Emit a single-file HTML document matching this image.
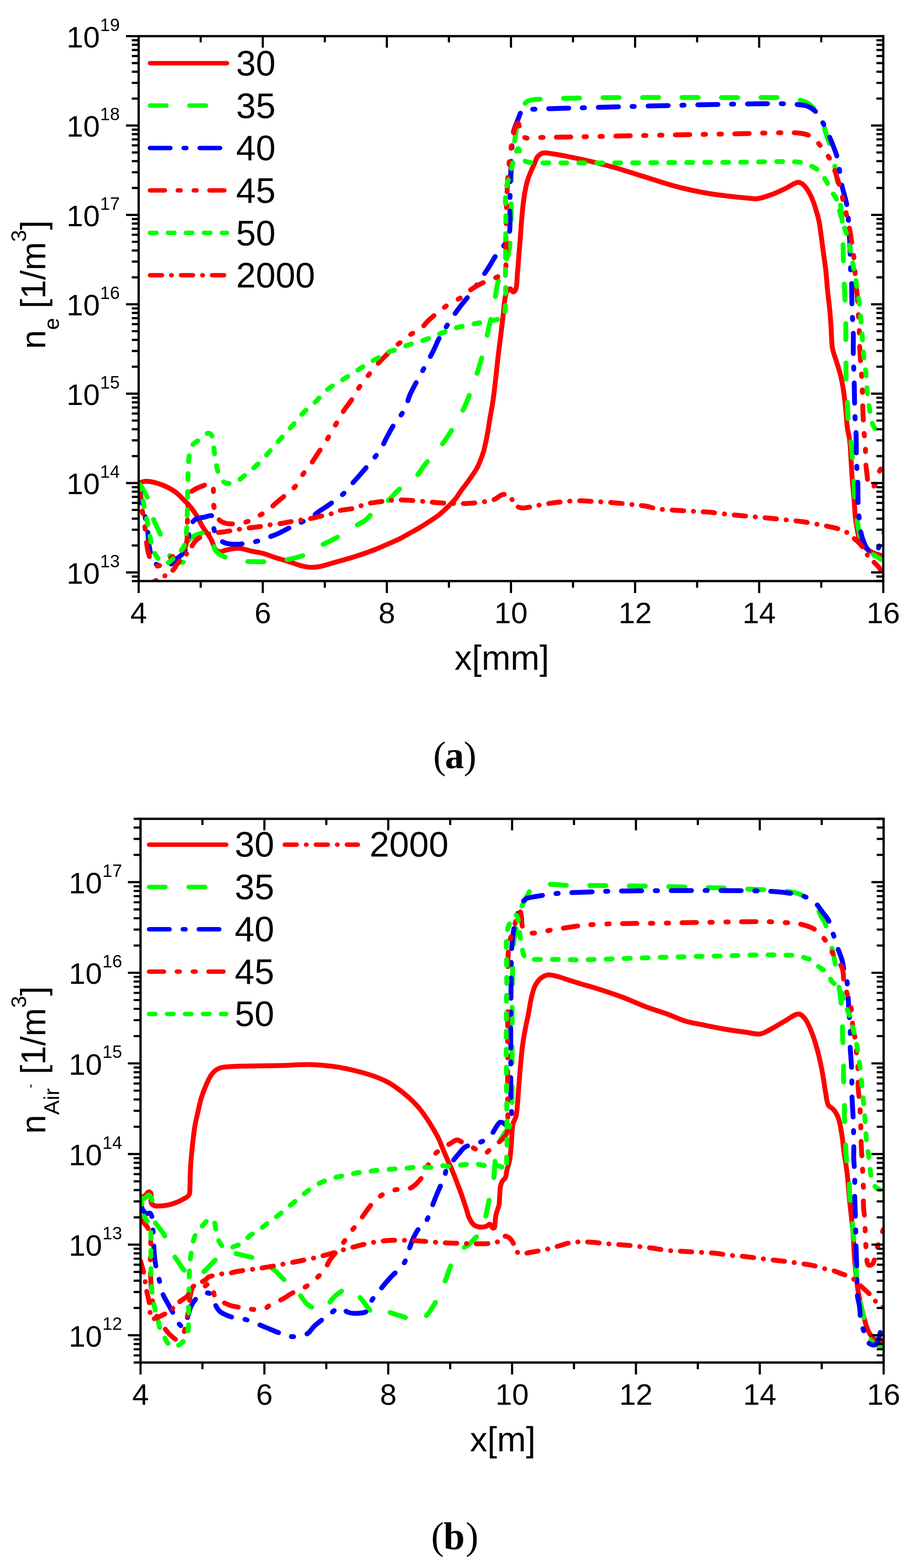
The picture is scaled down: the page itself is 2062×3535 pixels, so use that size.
<!DOCTYPE html><html><head><meta charset="utf-8"><style>html,body{margin:0;padding:0;background:#fff;}svg{display:block;}</style></head><body>
<svg xmlns="http://www.w3.org/2000/svg" width="2062" height="3535" viewBox="0 0 2062 3535">
<rect width="2062" height="3535" fill="#fff"/>
<defs><clipPath id="clipa"><rect x="312.5" y="81.5" width="1678" height="1228.5"/></clipPath></defs>
<g clip-path="url(#clipa)">
<path d="M312.5 1089C318 1087.7 322.4 1085.1 329 1085C338.7 1084.9 353.8 1088.9 365 1093C375.7 1097 386.2 1102.6 395 1109C403.4 1115 410.6 1123.5 417 1130C422.3 1135.3 426.6 1139.5 431 1145C435.6 1150.8 440 1157.4 444 1164C448 1170.7 451.1 1178.4 455 1185C458.8 1191.3 463.5 1197.9 467 1203C469.6 1206.8 471.9 1209.3 474 1213C476.3 1217 478.1 1221.7 480 1226C481.8 1230.1 482.5 1234.9 485 1238C487.3 1240.8 490.4 1243.4 494 1244C498.4 1244.8 503.9 1241.2 510 1240C517.8 1238.5 527.6 1235.7 537 1236C547.2 1236.3 559 1240.9 569 1243C577.8 1244.9 585.7 1245.7 594 1248C602.7 1250.4 611.1 1254.1 620 1257C629.4 1260 639.7 1262.6 649 1265.5C657.7 1268.2 665.7 1271.7 674 1274C682 1276.2 690 1278.5 698 1279C706 1279.5 714 1278.4 722 1277C730.3 1275.5 737.3 1272.7 747 1270C760.6 1266.1 779.7 1261.1 796 1256C812.4 1250.8 830.1 1244.8 845 1239C857.7 1234.1 869.7 1228.5 880 1224C888.2 1220.4 894.8 1217.6 902 1214C909.3 1210.3 916.3 1206 923.5 1202C930.7 1198 937.9 1194.3 945 1190C952.4 1185.6 959.7 1180.8 967 1176C974.4 1171.1 981.9 1166.6 989 1161C996.5 1155 1004.4 1147.5 1011 1141C1016.9 1135.2 1022.2 1130 1027 1124C1031.8 1118 1035.9 1110.7 1040 1105C1043.5 1100.2 1046.7 1096.4 1050 1092C1053.4 1087.4 1056.4 1083.3 1060 1078C1064.6 1071.3 1071 1062.4 1075 1055C1078.4 1048.8 1080.5 1043.2 1083 1037C1085.6 1030.6 1088.1 1023.4 1090 1017C1091.7 1011.1 1092.6 1006.2 1094 1000C1095.6 992.5 1097.5 983.3 1099 975C1100.5 966.7 1101.4 959.6 1103 950C1105.2 936.8 1108.7 918.8 1111 903C1113.3 887.1 1115.2 870.9 1117 855C1118.8 839.3 1120.2 823.7 1122 808C1123.8 792.1 1126.4 773.4 1128 760C1129.2 750.3 1130 743.7 1131 735C1132.1 725.5 1133.4 715 1134.5 705C1135.6 695 1136.4 682.5 1137.6 675C1138.3 670.4 1139 667.3 1140 664C1140.9 661.1 1141.3 658.2 1143 656C1144.7 653.8 1147.9 650.7 1150 651C1152.2 651.3 1153.9 657.8 1156 658C1157.9 658.2 1160.4 655.9 1162 653C1165.4 646.7 1164.8 629.6 1166 617C1167.3 603.2 1168.3 588 1169.5 573.5C1170.7 559 1171.8 545.1 1173 530C1174.3 513.7 1175.3 495.4 1177 479C1178.5 463.8 1180.1 448.4 1182.5 435C1184.6 423.4 1186.9 412.6 1190 403C1192.6 394.9 1196.4 387.1 1199 381C1200.9 376.7 1202.2 374 1204 370C1206.2 365.2 1207.6 358.2 1211 354C1214.1 350.1 1218.2 346.4 1223 345C1228.6 343.4 1236.4 345.7 1243 346.5C1249.4 347.2 1255.1 348.3 1262 349.5C1270.4 351 1279.7 352.9 1290 355C1302.6 357.6 1317.2 360.5 1332 364C1348.9 368 1367 372.6 1386 378C1407.4 384.1 1431.3 392 1454 399C1476.7 406 1499.2 414 1522 420C1544.5 426 1569 431.2 1590 435C1607.9 438.2 1623.4 440 1640 442C1656.4 444 1676.9 446 1689 447C1696.1 447.6 1699.5 448.7 1706 448C1715.1 447 1727.5 442.8 1738 439C1748.8 435.1 1759.6 429.8 1770 425C1779.9 420.4 1791.4 410.9 1799 411C1803.9 411 1807.2 413.7 1811 417C1816.4 421.7 1821.8 431.2 1826 439C1830.2 446.9 1832.9 454.8 1836 464C1839.7 474.8 1843.8 489.7 1846 500C1847.6 507.6 1847.9 512 1849 520C1850.7 532 1853 550 1855 565C1857 580 1859.3 595 1861 610C1862.7 625 1863.5 640 1865 655C1866.5 670 1868.6 685.4 1870 700C1871.3 713.7 1872 726.3 1873 740C1874 754.6 1873.6 771.6 1876 785C1878 796.1 1882 805 1885 815C1888 825 1891.5 834.9 1894 845C1896.5 854.9 1898.3 865 1900 875C1901.7 885 1902.8 895 1904 905C1905.2 915 1906.1 925.5 1907 935C1907.8 943.7 1907.9 951 1909 960C1910.3 970.7 1913.5 982.6 1915 995C1916.7 1009 1917 1025 1918 1040C1919 1055 1919.8 1070 1921 1085C1922.2 1100 1923.8 1115.4 1925 1130C1926.1 1143.7 1926.7 1159.3 1928 1170C1928.9 1177.2 1929.8 1181.6 1931 1188C1932.4 1195.4 1933.4 1204.8 1936 1212C1938.3 1218.3 1941 1224 1945 1229C1949 1234.1 1954.8 1238.6 1960 1242C1964.8 1245.1 1969.6 1246.9 1975 1249C1981.1 1251.3 1988.3 1253 1995 1255" stroke="#ff0000" stroke-width="11" fill="none" stroke-linecap="round" stroke-linejoin="round"/>
<path d="M312.5 1090C315 1093 317.7 1095.6 320 1099C322.6 1102.8 324.6 1107.4 327 1112C329.6 1117 332.8 1122.1 335 1128C337.5 1134.6 339 1142.6 341 1150C343 1157.6 344.3 1165.5 347 1173C349.7 1180.5 353.6 1187.6 357 1195C360.5 1202.6 364.6 1209.9 368 1218C371.6 1226.6 373.9 1237.3 378 1245C381.5 1251.6 385.1 1258.1 390 1262C394.3 1265.4 400.1 1267.6 405 1268C409.4 1268.3 415.1 1268.1 418 1265C422 1260.7 420.8 1248.1 422 1240C423.1 1232.4 421.7 1223.6 425 1218C428 1212.9 434.4 1209.8 440 1207C446 1204 453.9 1202.1 460 1201C465 1200.1 470.7 1197.9 474 1200C477.6 1202.2 478.3 1209.3 480 1215C482.1 1222.2 481.7 1233.9 485 1240C487.4 1244.6 491 1247.2 495 1250C499.3 1253 504.9 1254.7 510 1257C515.2 1259.4 519.2 1262.4 526 1264C536.7 1266.5 554.7 1265.7 569 1266C583.1 1266.3 597.2 1266.9 611 1266C624.5 1265.2 637.9 1263.7 651 1261C663.9 1258.3 677 1255.2 689 1250C701 1244.8 711.6 1236.2 723 1230C734.2 1223.9 745.8 1219.4 757 1213C768.5 1206.4 779.7 1197.8 791 1191C801.7 1184.5 814 1179.8 823 1173C830.9 1167 835.4 1159.7 843 1153C852 1145.1 864.3 1137.6 874 1129C883.6 1120.5 891.1 1110.6 901 1102C911.6 1092.8 926.2 1085.7 936 1076C944.9 1067.2 951.2 1055.3 958 1047C963.3 1040.5 968 1035.7 973 1030C978 1024.3 983.1 1019.2 988 1013C993.4 1006.3 998.5 999 1004 991C1010.4 981.6 1018.3 969.5 1024 960C1028.7 952.1 1032.1 945.3 1036 938C1039.8 930.9 1043.2 925.2 1047 917C1052.1 905.9 1058.7 888.7 1063 877C1066.3 868 1068.4 860.9 1071 853C1073.6 845.4 1075.9 839.3 1078.6 830.5C1082.4 818.2 1087.7 800.7 1091.4 785.7C1095.1 770.9 1097.5 756.4 1101 741C1104.7 724.5 1109.6 706.9 1113 690C1116.3 673.6 1117.3 656.5 1121 641C1124.4 626.6 1129.5 611.9 1134 600C1137.6 590.5 1142.3 584.8 1145 575C1148.5 562.4 1149.8 544.8 1151 530C1152.1 515.8 1151.8 502.5 1152 488C1152.2 472.5 1151.9 456.9 1152 440C1152.2 421.1 1152 396.6 1153 380C1153.7 368.3 1154.7 361.2 1156 350C1157.6 335.9 1159.9 315.7 1162 302C1163.6 291.7 1164.6 283.2 1167 275C1169.1 267.7 1172.6 261.5 1175 255C1177.2 248.9 1178.3 241.8 1181 237C1183.2 233.2 1184.6 230.3 1189 228C1197.6 223.5 1211.9 224.3 1235 223C1304.1 219 1549 219.6 1650 220C1708 220.2 1760.6 218.4 1787 222C1798 223.5 1803.8 225.8 1810 228C1814.4 229.6 1817.3 230.6 1821 233C1825.6 235.9 1830.3 240.5 1835 245C1840.3 250 1847 254.7 1851 262C1856 271.1 1856.3 284.7 1860 297C1864.2 310.9 1871.2 326.2 1875 341C1878.8 355.5 1880.5 370.5 1883 385C1885.5 399.2 1888 412.9 1890 427C1892 441.2 1893.5 455.7 1895 470C1896.5 484.3 1898.2 498.2 1899 513C1899.9 528.8 1899.7 546 1900 562C1900.3 577.3 1900.5 592.2 1901 607C1901.5 621.5 1902.3 635.5 1903 650C1903.7 664.8 1904.5 680 1905 695C1905.5 710 1905.8 725.2 1906 740C1906.2 754.5 1905.9 768.5 1906 783C1906.1 797.8 1906.3 813.1 1906.5 828C1906.7 842.7 1906.4 857.3 1907 872C1907.6 886.9 1909.2 902.2 1910 917C1910.8 931.5 1910.6 945.4 1912 960C1913.5 975.4 1917.3 991.7 1919 1007C1920.6 1021.4 1921 1034.8 1922 1049C1923 1063.7 1924.2 1079.2 1925 1094C1925.8 1108.5 1925.7 1122.5 1927 1137C1928.3 1151.9 1930.6 1168.2 1933 1182C1935.1 1193.9 1936.7 1205.5 1940 1215C1942.7 1222.7 1945.4 1229.1 1950 1235C1954.9 1241.2 1961.9 1246 1969 1251C1976.8 1256.5 1986.3 1261 1995 1266" stroke="#00ff00" stroke-width="11" fill="none" stroke-linecap="round" stroke-linejoin="round" stroke-dasharray="36.5 52.5"/>
<path d="M312.5 1090C314.3 1101.7 315.9 1114.4 318 1125C319.8 1134.1 322.2 1141.6 324 1150C325.8 1158.3 327.5 1166.7 329 1175C330.5 1183.3 331.9 1191.3 333 1200C334.2 1209.5 334.4 1220.5 336 1230C337.5 1238.8 339 1247.7 342 1255C344.6 1261.4 347.5 1268.5 352 1272C355.8 1275 361.3 1275.3 366 1276C370.6 1276.6 375.6 1277.7 380 1276C385.4 1273.9 389.9 1266.4 395 1262C399.9 1257.7 405.7 1255 410 1250C414.8 1244.5 419.3 1237.7 422 1230C425 1221.3 424.8 1207.7 426 1200C426.7 1195.1 426.3 1192.1 428 1188C430.2 1182.6 434.6 1174.7 440 1171C445.3 1167.4 453.5 1167.4 460 1166C466.1 1164.7 474.6 1160.8 478 1163C480.8 1164.8 480.2 1170.4 481 1175C482 1181 480.4 1189 483 1196C486.2 1204.4 493.3 1215.9 501 1221C508.2 1225.8 516.9 1226.5 527 1227C540.7 1227.7 562.7 1224 576 1221C585.5 1218.8 592 1215.8 600 1213C608 1210.2 615.3 1207.8 624 1204C634.9 1199.2 647.7 1192 660 1186C673 1179.7 689.4 1173.4 700 1167C707.8 1162.4 712.5 1157.6 719 1153C725.8 1148.3 732.3 1144.5 740 1139C750.1 1131.8 765 1121.6 774 1113C781.1 1106.3 785.2 1099.6 791 1093C796.9 1086.3 801.7 1081.5 809 1073C821.3 1058.6 846.3 1030.3 857 1014C863.8 1003.7 866.2 996 871 987C875.9 978 880 969.7 886 960C893.4 948 906.7 933.5 913 921C918.1 911 919.1 901.3 923 892C926.8 883 930.4 876.8 936 866C945.6 847.6 966.5 810.9 976 792C981.7 780.6 984.3 772.8 989 764C993.4 755.8 997.5 749.6 1003 741C1010.2 729.6 1021.2 712.9 1029 702C1034.8 693.8 1039.5 688 1045 681C1050.5 674 1055.3 669 1062 660C1072.9 645.3 1093.1 615.4 1103 600C1109 590.6 1111.8 584.3 1117 577C1122.2 569.7 1129.1 563.7 1134 556C1139.1 548 1144.2 541 1147 530C1151.2 513.5 1148.5 485.8 1149 465C1149.5 445.9 1149.4 428.7 1150 410C1150.7 390.4 1151.9 368.9 1153 350C1154 333.1 1153.2 316.2 1156 302C1158.4 290.1 1163.4 279.1 1167 270C1169.7 263.1 1171.6 255.6 1175 252C1177.3 249.6 1179.4 249 1183 248C1189.1 246.3 1199.9 246.5 1209 246C1219.1 245.5 1230.2 245.3 1241 245C1252.2 244.7 1257.6 244.5 1275 244C1331.9 242.5 1549.1 236.5 1640 235C1694.3 234.1 1741.9 233.2 1770 234C1783.5 234.4 1790.9 234.8 1800 236C1807.7 237 1814.4 237.1 1821 240C1828.1 243.1 1835.4 248.4 1841 254.5C1846.9 260.9 1850.5 269.4 1855 278C1860.2 287.7 1865.6 299.9 1870 310C1873.8 318.8 1877.1 327 1880 335C1882.7 342.3 1885.1 348.4 1887 356C1889.2 364.8 1890.4 375.1 1892 385C1893.7 395.4 1895 407.3 1897 417C1898.7 425.3 1901.1 432.1 1903 440C1905.1 448.4 1907.4 455.4 1909 466C1911.5 482.2 1912.8 508.2 1914 528C1915.1 546.1 1915.5 565 1916 580C1916.4 591.4 1916.5 600.2 1917 610C1917.5 619.5 1918.5 627.1 1919 638C1919.7 653.1 1919.6 677.8 1920 692C1920.3 701.3 1920.6 708.4 1921 715C1921.3 720 1921.7 723.1 1922 728C1922.4 734.4 1922.8 741.1 1923 750C1923.3 763.8 1922.7 787.8 1923 803C1923.2 814.4 1923.7 823 1924 833C1924.3 843 1924.7 851.6 1925 863C1925.4 878 1925.6 900.3 1926 915C1926.3 925.8 1926.5 933.4 1927 943C1927.5 953.1 1928.5 962.3 1929 974C1929.6 989.1 1929.6 1011.2 1930 1026C1930.3 1037.1 1930.5 1045.3 1931 1055C1931.5 1064.9 1932.5 1073.5 1933 1085C1933.7 1100.4 1933.3 1123.9 1934 1139C1934.5 1149.9 1935.1 1157.3 1936 1167C1937 1177.6 1937.6 1189.4 1940 1200C1942.3 1210.4 1946.3 1222.4 1950 1230C1952.5 1235.1 1955 1239.1 1958 1242C1960.4 1244.4 1963.1 1246.9 1966 1247C1969.1 1247.1 1973 1245.2 1976 1242C1981 1236.5 1984.5 1220.6 1988 1212C1990.6 1205.5 1992.7 1200.7 1995 1195" stroke="#0000ff" stroke-width="11" fill="none" stroke-linecap="round" stroke-linejoin="round" stroke-dasharray="45.4 30.6 5 31"/>
<path d="M312.5 1090C313.7 1100 314.7 1110.2 316 1120C317.2 1129.5 318.6 1139.2 320 1148C321.3 1155.8 322.8 1162.1 324 1170C325.5 1179.2 326.7 1189.6 328 1200C329.4 1211.2 330.1 1224.6 332 1235C333.6 1243.5 335.1 1251.1 338 1258C340.6 1264.3 343.7 1272.5 348 1275C351.4 1276.9 356 1276.2 360 1275C364.9 1273.5 369.5 1268.8 375 1265C381.9 1260.2 390.8 1252.8 398 1248C404 1244 411.2 1242.7 415 1238C418.8 1233.4 419.8 1226.9 421 1220C422.5 1211.4 421.7 1200 422 1190C422.3 1180 422.5 1170.4 423 1160C423.5 1148.8 423.2 1134.1 425 1125C426.2 1118.9 427.6 1113.5 430 1110C431.7 1107.6 433.3 1106.7 436 1105C440.4 1102.2 448.4 1098.5 455 1096C461.7 1093.5 471.9 1088.7 476 1090C478.2 1090.7 479.1 1092.7 480 1095C481.4 1098.5 480.7 1104.1 481 1110C481.4 1118.7 480.2 1132.3 482 1142C483.6 1150.4 487.1 1159.2 490 1165C491.9 1168.8 493.1 1171.6 496 1174C499.4 1176.8 505.3 1178.9 510 1180C514.3 1181.1 517.7 1181.1 523 1181C531.1 1180.8 544.6 1179.8 554 1177C562.5 1174.5 569.2 1170.1 577 1166C585.5 1161.5 595.2 1156.7 603 1151C610.4 1145.6 616.1 1138.9 623 1133C630.1 1126.9 637.8 1121.2 645 1115C652.2 1108.8 660.1 1103.1 666 1096C671.7 1089.1 674.7 1080.8 680 1073C685.9 1064.4 693.8 1055.8 700 1047C706.1 1038.4 711.3 1029.6 717 1021C722.6 1012.6 728.7 1004.5 734 996C739.3 987.5 743.8 978.9 749 970C754.5 960.6 761.4 948.9 766 941C769.2 935.5 770.6 932.4 774 927C779 919.2 788 908.2 794 899C799.5 890.5 803.5 882.1 809 874C814.5 865.8 820.2 858.7 827 850C835.4 839.3 848.1 823.7 856 815C861 809.5 864.3 806.7 869 802C874.5 796.5 880.4 789.8 887 784C894 777.8 904.2 770.9 910 766C913.8 762.9 914.9 761 919 758C926.1 752.7 941.7 745.7 950 739C956.6 733.6 959.9 727.7 966 722C973 715.4 982.2 708.2 990 702C997.2 696.3 1003.2 691.1 1011 686C1019.7 680.3 1031.7 675.7 1040 670C1047 665.2 1051.2 659.8 1058 655C1065.9 649.4 1078.1 642.4 1085 639C1089 637 1090.7 636.8 1095 635C1102.7 631.8 1119.3 625.7 1127 621C1131.9 618 1135.9 615.7 1138 612C1140 608.6 1139.5 605.6 1140 600C1141 587.7 1139.8 562 1140 540C1140.3 513 1140.9 478.1 1142 450C1143 425.2 1144.2 400.2 1146 380C1147.4 364.5 1149.2 351.9 1151 339C1152.6 327.4 1153.9 315.7 1156 306C1157.7 298.2 1159.7 290.2 1162 285C1163.5 281.6 1165.5 276.9 1167 277C1168.9 277.2 1170.4 285.5 1172 290C1173.7 294.8 1174.4 301.4 1177 305C1179.1 307.9 1181.2 309.8 1185 311C1191.6 313.1 1203.3 310.3 1215 310C1231.6 309.6 1246.5 309.5 1275 309C1345.2 307.7 1543.1 303.5 1640 302C1704.2 301 1772.2 297.4 1800 300C1809.9 300.9 1814.2 301.8 1820 304C1825.1 306 1828.9 308.2 1833.5 312C1839.8 317.2 1846.7 325.9 1853 334C1859.9 342.9 1867.8 353.3 1873 363.5C1877.9 373 1880.5 382.5 1884 393C1887.9 404.6 1891.9 418.2 1895 430C1897.8 440.7 1899.4 449.9 1902 461C1905 473.9 1909.4 490.5 1912 503C1914.1 513 1915.6 521.7 1917 530C1918.2 537.2 1919 543.3 1920 550C1921 556.7 1922.1 562.6 1923 570C1924.1 579 1925.2 589.8 1926 600C1926.9 610.5 1927 621 1928 632C1929 643.7 1931 656.1 1932 668C1933 679.7 1933.3 691.7 1934 703C1934.6 713.6 1935.5 723.1 1936 734C1936.6 746.2 1936.5 760.9 1937 773C1937.4 783.7 1938 792.6 1938.6 803C1939.3 814.2 1940.2 826.7 1941 838C1941.7 848.6 1942.5 858.1 1943 869C1943.6 881.2 1943.6 896 1944 908C1944.3 918.4 1944.5 926.9 1945 937C1945.5 948.1 1946.1 960.6 1947 972C1947.8 982.9 1949.3 992.8 1950 1004C1950.7 1016.3 1950.2 1031.1 1951 1043C1951.7 1053.1 1952.8 1062 1954 1071C1955.1 1079.3 1955 1090.3 1958 1095C1959.8 1097.8 1962.8 1100.3 1965 1100C1967.5 1099.7 1970.1 1095.6 1972 1092C1974.8 1086.7 1975.2 1076.8 1978 1070C1980.6 1063.5 1984.9 1057.4 1988 1052C1990.5 1047.6 1992.7 1044 1995 1040" stroke="#ff0000" stroke-width="11" fill="none" stroke-linecap="round" stroke-linejoin="round" stroke-dasharray="32.6 30 5.4 30.6 5.4 30"/>
<path d="M312.5 1090C315 1099.3 317.8 1108.5 320 1118C322.3 1127.8 323.8 1137.3 326 1148C328.5 1160.2 331.4 1173.8 334 1187C336.7 1200.5 338.8 1216.5 342 1228C344.4 1236.6 346.4 1243.6 350 1250C353.2 1255.8 357.4 1261.6 362 1265C365.9 1267.9 370.5 1270.6 375 1270C380.5 1269.3 386.9 1262.3 392 1258C396.8 1253.9 401.2 1249.7 405 1245C408.8 1240.4 412.6 1236.2 415 1230C418.2 1222 418.8 1210.8 420 1200C421.3 1187.7 421.5 1174.7 422 1160C422.6 1142 422.6 1118 423 1100C423.3 1085.3 423.4 1072.4 424 1060C424.5 1049.3 424.3 1039.6 426 1030C427.7 1020.7 429.6 1009.4 434 1003C437.3 998.1 442.6 996.2 447 993C451.3 989.9 456.3 986.9 460 984C463.1 981.6 465.2 977.5 468 977C470.5 976.5 474 977.8 476 980C478.6 982.9 478.9 989.3 480 995C481.4 1002.2 481.8 1011.3 483 1020C484.4 1029.6 485.9 1040.5 488 1050C490 1058.8 491.6 1068.5 495 1075C497.7 1080.1 501.3 1084.5 505 1087C508.1 1089 511.4 1089.6 515 1090C519 1090.4 523.6 1090.6 528 1089C533.6 1087 539.8 1081 545 1077C549.7 1073.4 553.4 1069.8 558 1066C563 1061.8 568.3 1058.1 574 1053C581.1 1046.6 590 1037.5 597 1030C603.2 1023.2 607.9 1017.1 614 1010C621.1 1001.9 629.2 992.7 637 984C644.9 975.1 653.2 966 661 957C668.5 948.3 675 939.1 683 931C691 922.8 700.3 916.4 709 908C718.6 898.8 727.9 886.3 738 878C747 870.6 756.3 866.2 766 860C776.5 853.3 788.5 845.7 799 839C808.7 832.8 817.4 826.8 827 821C836.7 815.1 847.8 809.1 857 804C864.9 799.6 873.4 794.2 879 792C882.2 790.7 883.5 791.1 887 790C894.2 787.8 907.7 781.8 919 778C931.3 773.8 945.3 770.5 958 766C970.6 761.5 983 755.6 995 751C1006.3 746.7 1016.6 742.3 1028 739C1039.6 735.6 1052.4 733.4 1064 731C1074.7 728.8 1084.2 727.5 1095 725C1107.1 722.2 1126.5 721.1 1133 715C1137.1 711.1 1136.8 707.3 1138 700C1141.1 681.5 1138.7 633.3 1139 600C1139.3 566.7 1139.8 530.4 1140 500C1140.1 474.6 1137.9 448.4 1140 430C1141.4 417.8 1144.7 409.2 1147 400C1149 392.1 1150.8 385.8 1153 378C1155.5 369.2 1158.2 357.8 1161 350C1163.1 344.1 1165.5 335.1 1167.5 335C1169.1 335 1170.6 340.6 1172 344C1173.8 348.1 1174.2 354.5 1177 358C1179.6 361.3 1182.5 363.3 1188 365C1200 368.7 1220.4 366.6 1250 367C1324.1 368.1 1537.7 366.1 1640 366C1706.3 365.9 1778.1 362 1804 366C1812.3 367.3 1814.3 368.6 1820 371C1827.1 373.9 1836.4 377.5 1843 383C1849.8 388.7 1855 397.2 1860 405C1865 412.9 1868.6 422.3 1873 430C1876.9 436.9 1881.8 441.6 1885 449C1888.8 457.8 1890.4 470.2 1893 480C1895.4 488.8 1897.5 497.2 1900 505C1902.2 512.1 1904.8 517.4 1907 525C1909.8 534.6 1912.5 546.3 1915 558C1917.8 571.1 1920.5 586.2 1923 600C1925.5 613.5 1927.8 626.7 1930 640C1932.2 653.3 1934.3 666.6 1936 680C1937.7 693.3 1938.8 706.9 1940 720C1941.1 732.6 1942 744.4 1943 757C1944 770.1 1944.7 783.6 1946 797C1947.3 810.6 1949.7 824.4 1951 838C1952.3 851.4 1952.7 864.6 1954 878C1955.3 891.6 1956.9 905.8 1959 919C1961 931.4 1962.5 945.8 1966 955C1968.4 961.3 1970.8 965.4 1975 970C1980 975.5 1988.3 980 1995 985" stroke="#00ff00" stroke-width="11" fill="none" stroke-linecap="round" stroke-linejoin="round" stroke-dasharray="13.5 27"/>
<path d="M330 1322C332.7 1320 334.7 1318.1 338 1316C342.7 1313 349.6 1310.1 356 1306.6C363.5 1302.5 373.7 1297.3 380 1293C384.5 1289.9 387.7 1287.7 391 1284C394.8 1279.9 396.8 1274.3 401 1269C406.5 1262.1 416.5 1253.9 422 1247C426.2 1241.7 428.6 1236.9 432 1232C435.3 1227.2 437.5 1222.2 442 1218C447.5 1212.9 457 1207.6 464 1205C469.6 1202.9 474.1 1202.9 480 1202C487.4 1200.9 497.4 1200.1 505 1199C511.5 1198.1 517.1 1197 523 1196C528.8 1195 533.5 1194 540 1193C548.8 1191.7 562.4 1190.1 571 1189C577.2 1188.2 581.7 1187.8 587 1187C592.3 1186.2 596.8 1185 603 1184C611.6 1182.6 625.4 1181.4 634 1180C640.2 1179 644.6 1178 650 1177C655.6 1176 660.4 1175.1 667 1174C676.2 1172.5 689 1171.1 700 1169C711.3 1166.8 724.6 1163.2 734 1161C740.6 1159.4 745.6 1158.7 751 1157C756.2 1155.4 760 1152.7 766 1151C774.4 1148.7 788.8 1148.1 797 1146C802.7 1144.5 806.2 1142.6 811 1141C815.9 1139.3 820 1137.5 826 1136C834.4 1133.9 848.4 1132.2 857 1131C863.2 1130.1 867 1129.6 873 1129C880.8 1128.2 889.6 1127.1 900 1127C914.1 1126.9 935.2 1128.9 950 1130C961.9 1130.9 971.1 1132.2 982 1133C993.4 1133.9 1005.3 1134.7 1017 1135C1028.7 1135.3 1040.5 1135.5 1052 1135C1063.2 1134.5 1074.4 1133.6 1085 1132C1095 1130.5 1106 1129.2 1114 1126C1120.4 1123.4 1125.1 1117.7 1130 1116C1133.6 1114.8 1136.7 1114.1 1140 1115C1144 1116.1 1148.4 1120.2 1152 1124C1156.1 1128.3 1158.7 1136.5 1163 1140C1166.6 1142.9 1170.3 1144.3 1175 1145C1181.3 1145.9 1191.1 1143.6 1198 1142.5C1203.8 1141.5 1207.8 1140.2 1214 1139C1222.4 1137.4 1235.5 1135.2 1244 1134C1250.2 1133.1 1254.4 1132.6 1260 1132C1266.1 1131.3 1271.8 1130.5 1279 1130C1288.3 1129.4 1302.2 1128.9 1311 1129C1317.3 1129.1 1321.4 1129.7 1327 1130C1333.1 1130.3 1338.8 1130.6 1346 1131C1355.3 1131.5 1366.6 1132.1 1378 1133C1391.1 1134 1409.1 1135.8 1420 1137C1426.9 1137.7 1431.3 1138.3 1437 1139C1442.9 1139.7 1448.5 1139.9 1455 1141C1462.7 1142.3 1472.1 1145.7 1480 1147C1487 1148.2 1492.4 1148.4 1500 1149C1509.8 1149.8 1522.7 1150.3 1534 1151C1545.3 1151.7 1556.7 1152.3 1568 1153C1579.3 1153.7 1590.1 1153.9 1602 1155C1615.3 1156.2 1630.9 1158.6 1644 1160C1655.4 1161.2 1665.3 1162 1676 1163C1686.9 1164 1698 1165 1709 1166C1720 1167 1731 1167.9 1742 1169C1753 1170.1 1764 1171.3 1775 1172.5C1786 1173.7 1798.8 1174.7 1808 1176C1814.6 1176.9 1818.4 1177.8 1825 1179C1834.2 1180.6 1846.7 1182.6 1858 1185C1870 1187.6 1885.9 1190.8 1895 1194C1900.6 1195.9 1904 1197.5 1908 1200C1912 1202.5 1914.8 1205.4 1919 1209C1924.7 1213.9 1933.9 1221.2 1939 1227C1942.9 1231.4 1945.1 1235.5 1948 1240C1951.1 1244.8 1953 1249.8 1957 1255C1962.3 1261.7 1972.5 1269.5 1978 1276C1982.2 1281 1984.9 1285.5 1988 1290C1990.9 1294.1 1993.3 1298 1996 1302" stroke="#ff0000" stroke-width="11" fill="none" stroke-linecap="round" stroke-linejoin="round" stroke-dasharray="26 21.8 0.4 21.8"/>
</g>
<rect x="312.5" y="81.5" width="1678" height="1228.5" fill="none" stroke="#000" stroke-width="5.2"/>
<path d="M312.5 1310L312.5 1337M452.3 1310L452.3 1325M452.3 81.5L452.3 95.5M592.2 1310L592.2 1337M592.2 81.5L592.2 107.5M732 1310L732 1325M732 81.5L732 95.5M871.8 1310L871.8 1337M871.8 81.5L871.8 107.5M1011.7 1310L1011.7 1325M1011.7 81.5L1011.7 95.5M1151.5 1310L1151.5 1337M1151.5 81.5L1151.5 107.5M1291.3 1310L1291.3 1325M1291.3 81.5L1291.3 95.5M1431.2 1310L1431.2 1337M1431.2 81.5L1431.2 107.5M1571 1310L1571 1325M1571 81.5L1571 95.5M1710.8 1310L1710.8 1337M1710.8 81.5L1710.8 107.5M1850.7 1310L1850.7 1325M1850.7 81.5L1850.7 95.5M1990.5 1310L1990.5 1337M297 1310L312.5 1310M1975 1310L1990.5 1310M297 1299.7L312.5 1299.7M1975 1299.7L1990.5 1299.7M284 1290.5L312.5 1290.5M1963 1290.5L1990.5 1290.5M297 1229.8L312.5 1229.8M1975 1229.8L1990.5 1229.8M297 1194.3L312.5 1194.3M1975 1194.3L1990.5 1194.3M297 1169.2L312.5 1169.2M1975 1169.2L1990.5 1169.2M297 1149.6L312.5 1149.6M1975 1149.6L1990.5 1149.6M297 1133.7L312.5 1133.7M1975 1133.7L1990.5 1133.7M297 1120.2L312.5 1120.2M1975 1120.2L1990.5 1120.2M297 1108.5L312.5 1108.5M1975 1108.5L1990.5 1108.5M297 1098.2L312.5 1098.2M1975 1098.2L1990.5 1098.2M284 1089L312.5 1089M1963 1089L1990.5 1089M297 1028.3L312.5 1028.3M1975 1028.3L1990.5 1028.3M297 992.8L312.5 992.8M1975 992.8L1990.5 992.8M297 967.7L312.5 967.7M1975 967.7L1990.5 967.7M297 948.1L312.5 948.1M1975 948.1L1990.5 948.1M297 932.2L312.5 932.2M1975 932.2L1990.5 932.2M297 918.7L312.5 918.7M1975 918.7L1990.5 918.7M297 907L312.5 907M1975 907L1990.5 907M297 896.7L312.5 896.7M1975 896.7L1990.5 896.7M284 887.5L312.5 887.5M1963 887.5L1990.5 887.5M297 826.8L312.5 826.8M1975 826.8L1990.5 826.8M297 791.3L312.5 791.3M1975 791.3L1990.5 791.3M297 766.2L312.5 766.2M1975 766.2L1990.5 766.2M297 746.6L312.5 746.6M1975 746.6L1990.5 746.6M297 730.7L312.5 730.7M1975 730.7L1990.5 730.7M297 717.2L312.5 717.2M1975 717.2L1990.5 717.2M297 705.5L312.5 705.5M1975 705.5L1990.5 705.5M297 695.2L312.5 695.2M1975 695.2L1990.5 695.2M284 686L312.5 686M1963 686L1990.5 686M297 625.3L312.5 625.3M1975 625.3L1990.5 625.3M297 589.8L312.5 589.8M1975 589.8L1990.5 589.8M297 564.7L312.5 564.7M1975 564.7L1990.5 564.7M297 545.1L312.5 545.1M1975 545.1L1990.5 545.1M297 529.2L312.5 529.2M1975 529.2L1990.5 529.2M297 515.7L312.5 515.7M1975 515.7L1990.5 515.7M297 504L312.5 504M1975 504L1990.5 504M297 493.7L312.5 493.7M1975 493.7L1990.5 493.7M284 484.5L312.5 484.5M1963 484.5L1990.5 484.5M297 423.8L312.5 423.8M1975 423.8L1990.5 423.8M297 388.4L312.5 388.4M1975 388.4L1990.5 388.4M297 363.2L312.5 363.2M1975 363.2L1990.5 363.2M297 343.7L312.5 343.7M1975 343.7L1990.5 343.7M297 327.7L312.5 327.7M1975 327.7L1990.5 327.7M297 314.2L312.5 314.2M1975 314.2L1990.5 314.2M297 302.5L312.5 302.5M1975 302.5L1990.5 302.5M297 292.2L312.5 292.2M1975 292.2L1990.5 292.2M284 283L312.5 283M1963 283L1990.5 283M297 222.3L312.5 222.3M1975 222.3L1990.5 222.3M297 186.9L312.5 186.9M1975 186.9L1990.5 186.9M297 161.7L312.5 161.7M1975 161.7L1990.5 161.7M297 142.2L312.5 142.2M1975 142.2L1990.5 142.2M297 126.2L312.5 126.2M1975 126.2L1990.5 126.2M297 112.7L312.5 112.7M1975 112.7L1990.5 112.7M297 101L312.5 101M1975 101L1990.5 101M297 90.7L312.5 90.7M1975 90.7L1990.5 90.7M284 81.5L312.5 81.5M1963 81.5L1990.5 81.5" stroke="#000" stroke-width="4.9" fill="none"/>
<defs><clipPath id="clipb"><rect x="316.7" y="1846" width="1674.6" height="1225.8"/></clipPath></defs>
<g clip-path="url(#clipb)">
<path d="M316.7 2698C319.5 2697.7 322.3 2698.3 325 2697C328.5 2695.3 332.1 2687.4 335 2687C336.9 2686.8 338.8 2688.1 340 2690C342.3 2693.8 338.7 2707.2 341 2712C342.5 2715.1 344.7 2716.8 348 2718C353.1 2719.9 362.7 2718.8 370 2718C377.4 2717.2 385 2715.4 392 2713C398.9 2710.7 406.1 2707.4 412 2704C417.2 2701 423.3 2698.5 426 2694C428.7 2689.5 427.5 2683.8 428 2677C428.7 2667 428.3 2653.3 429 2640C429.8 2624.4 431.3 2605.8 433 2589C434.7 2572.5 436.5 2554.7 439 2540C441 2527.9 443.5 2518 446 2507C448.5 2496 450.7 2484.5 454 2474C457.1 2463.9 461 2454 465 2445C468.7 2436.8 472.7 2427.9 477 2422C480.2 2417.7 483.3 2414.5 487 2412C490.4 2409.7 493.2 2408.3 498 2407C505.9 2404.9 518.9 2404.7 531 2404C545.7 2403.2 562.8 2403.3 580 2403C599 2402.6 620.2 2402.5 640 2402C659.5 2401.5 679.3 2399.6 698 2400C715.6 2400.4 732 2401.7 749 2404C766.3 2406.3 783.8 2409.7 801 2414C818.5 2418.3 839 2424.5 853 2430C863 2433.9 870.1 2437.4 878 2442C885.7 2446.5 892.8 2451.6 900 2457C907.5 2462.6 914.9 2468.5 922 2475C929.4 2481.8 936.9 2489.3 943.5 2497C949.9 2504.5 955.5 2512.5 961 2520.5C966.4 2528.4 971.3 2536.5 976 2544.5C980.6 2552.3 985.3 2560.2 989 2568C992.5 2575.4 994.8 2582.4 998 2590C1001.5 2598.3 1005.3 2607.4 1009 2616C1012.6 2624.4 1016.4 2632.4 1020 2641C1023.8 2650 1027.5 2659.7 1031 2669C1034.5 2678.1 1037.7 2686.5 1041 2696C1044.7 2706.4 1049.1 2720 1052 2729C1054 2735.3 1054.5 2739.8 1057 2745C1059.7 2750.7 1063.7 2758 1068 2761.5C1071.3 2764.2 1074.9 2765.3 1079 2766C1083.8 2766.8 1090.5 2766.3 1095 2765C1098.6 2764 1101.5 2759.5 1104 2760C1106.5 2760.5 1107.9 2767 1110 2768C1111.3 2768.7 1113 2768.9 1114 2768C1116 2766.2 1115.4 2757 1116 2752C1116.5 2747.7 1116.7 2744 1117.5 2740C1118.3 2736 1119.8 2732 1121 2728C1122.2 2724 1123.9 2720.6 1124.7 2716C1125.8 2710.2 1125.5 2702.8 1126 2696C1126.6 2688.8 1126.7 2680 1128 2674C1129 2669.6 1130.1 2666.2 1132 2663C1133.8 2659.9 1137.3 2658.3 1139 2655C1141 2651 1140.7 2645.6 1142 2640C1143.7 2632.7 1147.1 2622.9 1148.6 2615C1149.9 2608 1150.3 2601.6 1151 2595C1151.6 2588.6 1151.9 2583.6 1152.5 2576C1153.4 2564.7 1153.5 2544.9 1156 2534C1157.7 2526.6 1161.2 2523.7 1163 2516C1166 2503.3 1166.4 2482.1 1168 2464C1169.7 2444.2 1171.2 2421.3 1173 2402C1174.6 2385 1175.8 2369.5 1178 2354C1180.1 2339.2 1183.2 2322.8 1185.5 2311C1187.1 2302.7 1188.3 2298.3 1190 2290C1192.4 2278.2 1194.9 2259.3 1198 2247C1200.4 2237.5 1202.3 2229.1 1206 2222C1209.2 2215.8 1213.2 2210 1218 2206C1222.6 2202.2 1228.1 2199 1234 2198C1240.4 2197 1247.8 2199.3 1255 2201C1263 2202.8 1271.1 2206.2 1280 2209C1290 2212.2 1301.7 2215.9 1312 2219C1321.6 2221.9 1328.8 2223.5 1340 2227C1357.2 2232.4 1384.8 2241.4 1405 2249C1423.1 2255.8 1439 2263.6 1456 2270C1472.7 2276.3 1490.5 2281.3 1506 2287C1519.6 2292 1531.2 2298.1 1544 2302C1556.5 2305.8 1568.5 2307.2 1582 2310C1597.5 2313.2 1615.5 2317.1 1632 2320C1648.1 2322.8 1665.5 2325.1 1680 2327C1692 2328.6 1703.4 2332.4 1713 2331C1721 2329.9 1726.3 2325.8 1734 2322C1743.9 2317.1 1755.9 2309 1767 2303C1777.9 2297 1791.4 2285.1 1800 2286C1806.2 2286.6 1810.5 2292.2 1815 2298C1821.6 2306.5 1827.1 2321.9 1832 2335C1837.2 2348.9 1841.3 2364.3 1845 2379C1848.6 2393.3 1851.3 2407.6 1854 2422C1856.7 2436.6 1858.5 2453.3 1861 2466C1862.9 2475.8 1863.3 2486 1867 2492C1869.7 2496.4 1874.7 2497.1 1878 2501C1882.2 2505.9 1886 2512.1 1889 2520C1893.3 2531.4 1896 2551.2 1898 2564C1899.6 2573.8 1899.7 2579.7 1901 2590C1902.9 2605 1906.7 2625.8 1909 2645C1911.5 2666 1912.8 2689.1 1915 2711C1917.2 2732.8 1920.2 2754.3 1922 2776C1923.8 2797.6 1924.4 2822.1 1926 2841C1927.2 2855.7 1928.6 2867.6 1930 2880C1931.3 2891.2 1932.3 2901.5 1934 2912C1935.7 2922.2 1937.7 2931.9 1940 2942C1942.4 2952.5 1945.2 2964 1948 2974C1950.5 2982.9 1952.6 2991.8 1956 2999C1958.8 3005.1 1962.3 3010.8 1966 3015C1969.1 3018.4 1971.8 3020.7 1976 3023C1981.7 3026 1990.7 3027.7 1998 3030" stroke="#ff0000" stroke-width="11" fill="none" stroke-linecap="round" stroke-linejoin="round"/>
<path d="M316.7 2700C319.5 2700.7 322.3 2702.6 325 2702C328.4 2701.3 332.1 2693.7 335 2694C337.7 2694.3 340.5 2699 342 2703C344 2708.5 342.5 2717.6 343 2725C343.5 2732.6 342.6 2741.1 345 2748C347.3 2754.7 352.9 2760 357 2766C361.2 2772 366.2 2777.6 370 2784C373.9 2790.6 377.1 2798.2 380 2805C382.7 2811.2 383.9 2817.1 387 2823C390.4 2829.4 395.9 2835.8 400 2842C403.9 2847.8 407.1 2854.1 411 2859C414.5 2863.3 418.3 2866.9 422 2870C425.3 2872.8 428.5 2875.7 432 2877C435.2 2878.2 438.4 2878.9 442 2878C447.3 2876.7 453.7 2871.1 460 2866C468.2 2859.3 478.8 2846.2 486 2840C490.6 2836 493.8 2833.7 498 2831C502.2 2828.3 506.1 2825 511 2824C516.6 2822.9 523.5 2824.9 530 2826C537.1 2827.2 545.1 2829.2 552 2831C558.3 2832.6 564.5 2833.9 570 2836C575.1 2837.9 579.2 2840.5 584 2843C589.2 2845.8 594.5 2848.7 600 2852C606.1 2855.6 612.8 2859 619 2864C626.2 2869.7 633.5 2878.9 640 2885C645.3 2890 650 2893.9 655 2898C659.7 2901.9 664.9 2904.6 669 2909C673.3 2913.6 676.2 2919.8 680 2925C683.8 2930.2 687.2 2935.7 692 2940C697.1 2944.5 704 2948.3 710 2951C715.3 2953.4 721.2 2957.3 726 2956C731.4 2954.5 735.6 2945.3 740 2940C744.2 2935 747.4 2929.6 752 2925C756.7 2920.2 762.6 2915.8 768 2912C773 2908.5 778.2 2903.4 783 2903C787.1 2902.7 791.5 2905.6 795 2908C798.5 2910.3 800.8 2913.6 804 2917C808 2921.3 812.8 2926.8 817 2932C821.2 2937.2 824.6 2942.6 829 2948C833.8 2953.9 839.1 2964 845 2966C849.7 2967.6 855.5 2964.5 860 2963C864 2961.7 866.6 2958.4 871 2958C877.2 2957.5 886.5 2961.8 894 2964C901.2 2966.1 908.7 2968.3 915 2971C920.5 2973.4 924.9 2978.4 930 2979C934.9 2979.6 940 2977 945 2975C950.4 2972.8 956.3 2970.2 961 2966C966.1 2961.4 969.6 2954.8 974 2948C979.3 2939.8 985.1 2930.2 990 2920C995.5 2908.7 1000.4 2894.9 1005 2883C1009.3 2872 1011.9 2861.3 1017 2851C1022.2 2840.3 1028.6 2827.9 1036 2820C1042.2 2813.3 1051 2810.1 1057 2805C1062.1 2800.7 1065.8 2796.2 1070 2792C1074.1 2787.9 1078.6 2785.5 1082 2780C1086.8 2772.3 1089.7 2759.7 1093 2748C1096.9 2734.2 1099.7 2716.8 1103 2702C1106.1 2688.2 1109.8 2675.9 1112 2662C1114.3 2647.3 1114.1 2630.1 1116 2616C1117.6 2603.8 1118.5 2592.1 1122 2582C1125.1 2573 1130.3 2565.8 1135 2558C1139.7 2550.2 1146.9 2543.9 1150 2535C1153.5 2524.9 1152.3 2514.7 1153 2500C1154.2 2475.2 1153.8 2433.3 1154 2400C1154.2 2366.7 1153.8 2333.3 1154 2300C1154.2 2266.7 1154.4 2230.4 1155 2200C1155.5 2174.6 1155.1 2149.3 1157 2130C1158.4 2116.3 1160.8 2106.7 1163 2095C1165.2 2083.3 1167.4 2069.5 1170 2060C1171.9 2053.2 1173.7 2048.2 1176 2043C1178.1 2038.3 1180.6 2034.7 1183 2030C1185.9 2024.5 1189 2017 1192 2012C1194.3 2008.1 1195 2004.7 1199 2002C1206.2 1997.2 1224.1 1995 1237 1994C1250.1 1993 1260.6 1995.5 1277 1996C1303.4 1996.7 1347 1996.1 1380 1996.5C1410.5 1996.8 1438.7 1997.4 1468 1998C1497.3 1998.6 1527.9 1999.3 1556 2000C1581.7 2000.6 1605.9 2001.1 1630 2002C1652.9 2002.8 1677.3 2004.1 1697 2005C1712.6 2005.7 1723.7 2005.6 1739 2007C1757.5 2008.6 1782.8 2008.5 1800 2015C1814.6 2020.5 1828.5 2030.5 1837 2040C1843.8 2047.6 1846.1 2058.1 1850 2065C1852.9 2070.1 1855.4 2072.2 1858 2078C1862.3 2087.8 1866.3 2106.1 1870 2120C1873.6 2133.5 1877.3 2146.6 1880 2160C1882.6 2173.3 1883.8 2186.7 1886 2200C1888.2 2213.3 1891.1 2225.4 1893 2240C1895.3 2257.5 1897 2280 1898 2298C1898.9 2313.7 1898.5 2327.3 1899 2342C1899.5 2356.9 1900.7 2372.1 1901 2387C1901.3 2401.7 1900.7 2416.3 1901 2431C1901.3 2445.7 1902.7 2460.4 1903 2475C1903.3 2489.4 1902.7 2503.4 1903 2518C1903.3 2533.1 1904.3 2548.8 1905 2564C1905.7 2578.8 1905.7 2593.4 1907 2608C1908.3 2622.7 1911.7 2637.2 1913 2652C1914.3 2666.9 1913.8 2682.1 1915 2697C1916.2 2711.8 1918.7 2726.3 1920 2741C1921.3 2755.7 1921.7 2770.4 1923 2785C1924.3 2799.4 1926.8 2813.6 1928 2828C1929.2 2842.6 1928.8 2857.3 1930 2872C1931.2 2886.9 1932.7 2902.7 1935 2917C1937.1 2930.3 1940.2 2942.9 1943 2955C1945.6 2966.1 1947.5 2975.9 1951 2987C1954.9 2999.5 1957.5 3017.1 1966 3026C1973.8 3034.1 1987.3 3035.3 1998 3040" stroke="#00ff00" stroke-width="11" fill="none" stroke-linecap="round" stroke-linejoin="round" stroke-dasharray="36.5 52.5"/>
<path d="M316.7 2712C318.5 2717.3 319.4 2723.8 322 2728C324.1 2731.4 327.1 2735 330 2736C332.5 2736.8 336 2734 338 2735C340 2736 341 2739 342 2742C343.5 2746.5 343.4 2752.8 344 2760C344.9 2770.7 345.2 2786.7 346 2800C346.8 2813.3 347.7 2829.3 349 2840C349.9 2847.2 350.6 2851.4 352 2858C353.7 2866.3 356.7 2876.6 359 2886C361.4 2895.6 362.5 2905.7 366 2915C369.5 2924.4 375.2 2933 380 2942C384.9 2951 391 2961.4 395 2969C397.8 2974.4 398.8 2979.1 402 2983C405.2 2986.8 410.9 2992.9 414 2992C417.4 2991.1 419.1 2980.3 421 2975C422.6 2970.4 423.5 2966.7 425 2962C426.8 2956.5 428 2949.8 431 2944C434.4 2937.5 439.6 2929.4 445 2925C449.5 2921.3 455.4 2919.7 460 2918C463.6 2916.6 467.1 2914.1 470 2915C473.2 2916 475.8 2921.3 478 2925C480.2 2928.7 480.7 2932.6 483 2937C486.1 2942.9 489.4 2951.5 496 2957C504.4 2964 521.9 2969.4 532 2972C538.9 2973.8 544.1 2972.7 550 2974C556.1 2975.3 561.2 2977.5 568 2980C577.2 2983.4 590.1 2988.9 600 2993C608.6 2996.5 617 3000.3 624 3003C629.3 3005 633.2 3006.4 638 3008C642.9 3009.7 647.1 3012.2 653 3013C661 3014 674.4 3012.9 682 3011C687.3 3009.6 691 3008 695 3005C699.7 3001.4 702.4 2995.3 708 2990C716 2982.4 729.6 2972.3 740 2965C749.2 2958.5 759.2 2948 767 2948C773 2948 777.6 2955.8 783 2958C787.9 2959.9 792.2 2960.9 798 2961C806.1 2961.1 820.5 2961.1 827 2956C833 2951.3 832.7 2940.3 837 2933C841.4 2925.6 846.9 2919.7 853 2912C860.7 2902.4 870.6 2890.4 880 2880C889.6 2869.4 903.1 2860 910 2849C916 2839.5 917.3 2828.9 921 2819C924.6 2809.2 927.8 2798.8 932 2790C935.9 2782 940 2774.5 945 2768C949.7 2761.9 956.8 2758.4 961 2752C965.6 2745 967.5 2735.8 971 2727C974.8 2717.2 979.2 2705.3 983 2696C986.1 2688.3 988.9 2682.2 992 2675C995.2 2667.5 999.6 2658.9 1002 2652C1003.9 2646.5 1003.6 2642.1 1006 2637C1009 2630.8 1015.2 2624.1 1020 2618C1024.6 2612.1 1029.2 2606.4 1034 2601C1038.6 2595.8 1042.4 2589.5 1048 2586C1053.5 2582.5 1061.3 2581.8 1067 2580C1071.7 2578.5 1075.6 2577.7 1080 2576C1084.9 2574.1 1090.4 2572.1 1095 2569C1099.8 2565.8 1104 2561.8 1108 2557C1112.5 2551.6 1116.4 2542.9 1120 2538C1122.5 2534.6 1124.3 2530.8 1127 2530C1129.4 2529.3 1132.5 2530.9 1135 2532C1137.5 2533.2 1139.6 2537.2 1142 2537C1144.9 2536.8 1149 2532.9 1151 2528C1155.4 2517.5 1151 2490.2 1151 2470C1151 2447.8 1151 2425.4 1151 2400C1151 2369.6 1150.8 2333.3 1151 2300C1151.2 2266.7 1151.6 2229.1 1152 2200C1152.3 2177.5 1152 2158 1153 2140C1153.9 2125.3 1155 2111.7 1157 2100C1158.6 2090.6 1160.8 2083.3 1163 2075C1165.2 2066.6 1167.4 2056.7 1170 2050C1171.9 2045.2 1173.7 2041.8 1176 2038C1178.3 2034.2 1179.9 2029.7 1184 2027C1189.5 2023.3 1198.5 2022.8 1208 2021C1221.6 2018.4 1246.2 2015.2 1258 2014C1264.4 2013.3 1266.5 2013.3 1273 2013C1285.3 2012.4 1308.3 2011.7 1326 2011C1343.9 2010.3 1354.7 2009.5 1380 2009C1439.6 2007.8 1616.5 2007.1 1680 2008C1709.6 2008.4 1727 2008.8 1745 2010C1757.9 2010.9 1766.7 2011.6 1778 2013.5C1790 2015.5 1804.3 2017.5 1815 2022C1824.3 2025.9 1832.4 2031.4 1839 2037.5C1845.2 2043.2 1849.2 2050.7 1854 2057C1858.5 2063 1863.5 2067.8 1867 2074.5C1871 2082.1 1872.9 2091.3 1876 2100.6C1879.5 2111.3 1883.2 2123.9 1887 2135C1890.6 2145.6 1895.2 2155.4 1898 2166C1900.9 2176.7 1901.8 2191.3 1904 2199C1905.3 2203.4 1906.9 2204.6 1908 2209C1909.9 2216.7 1910.2 2230.7 1911 2242C1911.9 2254 1912.2 2266.4 1913 2279C1913.8 2292.3 1915.5 2306.3 1916 2320C1916.5 2333.7 1915.6 2348.5 1916 2361C1916.4 2371.5 1917.4 2380.2 1918 2390C1918.6 2399.9 1919.2 2408.6 1919.5 2420C1919.9 2435 1919.5 2457 1920 2472C1920.4 2483.4 1921.1 2492.1 1921.6 2502C1922.1 2511.7 1922.6 2519.9 1923 2531C1923.5 2545.8 1923.9 2568 1924 2583C1924.1 2594.4 1923.7 2603 1924 2613C1924.3 2623 1925.6 2631.7 1926 2643C1926.5 2657.5 1925.8 2678.2 1926 2693C1926.2 2704.9 1926.7 2714.6 1927 2725C1927.3 2734.9 1927.7 2742.9 1928 2754C1928.4 2768.8 1928.6 2791 1929 2806C1929.3 2817.4 1929.7 2826.1 1930 2836C1930.3 2845.7 1930.7 2853.8 1931 2865C1931.4 2880.2 1930.5 2904.1 1932 2919C1933.1 2929.6 1935.7 2936.6 1937 2946C1938.4 2956.2 1938 2967.9 1940 2978C1941.8 2987.5 1945.2 2996.6 1948 3005C1950.5 3012.5 1952.2 3021.5 1956 3026C1958.7 3029.3 1962.6 3031.5 1966 3032C1969 3032.5 1972.4 3032.3 1975 3030C1979.8 3025.7 1981.4 3010.4 1985 3000C1989 2988.8 1993.7 2976.7 1998 2965" stroke="#0000ff" stroke-width="11" fill="none" stroke-linecap="round" stroke-linejoin="round" stroke-dasharray="45.4 30.6 5 31"/>
<path d="M316.7 2742C318.8 2746.3 320.4 2750.8 323 2755C325.8 2759.5 330.4 2762.8 333 2768C336 2774.1 337.9 2781.5 339 2790C340.5 2801.3 339 2817 339 2830C339 2842.3 338.7 2853.9 339 2866C339.3 2878.3 340 2890.7 341 2903C342 2915.3 342.8 2930.9 345 2940C346.3 2945.6 348.4 2948.1 350 2953C352.1 2959.3 352.7 2968.4 356 2975C359.2 2981.4 364.6 2986.5 369 2992C373.3 2997.4 377.1 3003.3 382 3008C386.8 3012.6 392.9 3019.4 398 3020C402.1 3020.5 407 3018.2 410 3015C413.9 3010.9 415.1 3002.1 417 2995C419.1 2987.2 420.5 2978.7 422 2970C423.6 2960.5 424.6 2949.5 426 2940C427.3 2931.3 428 2922.2 430 2915C431.6 2909.3 433 2901.1 436 2900C438.4 2899.2 441.6 2904.5 445 2905C448.8 2905.5 453.7 2903.8 458 2902C463 2900 469.3 2892 473 2893C476.3 2893.9 478.3 2900.6 480 2905C481.7 2909.6 480.9 2915.7 483 2920C485 2924 488.6 2927.3 492 2930C495.3 2932.6 498.8 2934 503 2936C508.4 2938.6 514.8 2941.9 522 2944C530.7 2946.5 543.3 2947.5 552 2949C558.8 2950.1 563.5 2951.5 570 2952C577.4 2952.6 587.1 2954.1 594 2952C600.2 2950.1 603.8 2944.6 610 2941C617.9 2936.5 629.5 2932.6 638 2928C645.6 2923.9 651.4 2919.1 659 2915C667.5 2910.4 678.9 2906.8 687 2902C693.9 2898 698.7 2894.4 705 2889C713.1 2882.1 724.3 2871.9 731 2863C736.7 2855.5 738.5 2848.1 744 2840C750.9 2829.7 762.1 2817.8 770 2807C777.3 2797.1 783.4 2786.8 790 2778C795.7 2770.3 801.3 2764.5 807 2757C813.3 2748.7 819.8 2738.2 826 2730C831.4 2722.7 835.5 2716.4 842 2710C849.5 2702.6 859.8 2693.7 869 2689C876.9 2685 884.8 2683.5 893 2682C901.2 2680.5 911.6 2681.2 918 2680C922.1 2679.2 924.3 2679.2 928 2677C934.5 2673.1 945.2 2662.1 951 2654C956.1 2647 957.8 2639.8 962 2632C966.9 2622.9 972.4 2610.6 979 2603C984.6 2596.5 991.7 2592.3 998 2588C1003.7 2584.1 1009.5 2581.1 1015 2578C1020.1 2575.1 1024.7 2570 1030 2570C1036.2 2570 1043.5 2577.9 1050 2581C1055.8 2583.8 1060.9 2585.1 1067 2588C1074.4 2591.5 1084.4 2601.3 1091 2601C1095.8 2600.8 1098.6 2596.3 1103 2593C1108.7 2588.7 1116.3 2582 1122 2577C1126.8 2572.8 1131.5 2569 1135 2565C1137.9 2561.7 1140.5 2558.9 1142 2555C1143.7 2550.7 1143.6 2546.7 1144 2540C1144.9 2526.7 1144 2501.4 1144 2480C1144 2455.2 1144 2428.2 1144 2400C1144 2368.5 1144 2333.3 1144 2300C1144 2266.7 1143.3 2230.4 1144 2200C1144.5 2174.6 1144.7 2146.2 1147 2130C1148.3 2121.2 1150 2117 1152 2110C1154.2 2102.1 1157.6 2093.2 1160 2085C1162.3 2077.2 1163.7 2067.8 1166 2062C1167.5 2058.2 1169.6 2052.9 1171 2053C1172.6 2053.1 1174 2060.3 1175 2065C1176.3 2071.4 1174.9 2081.6 1177 2088C1178.7 2093.2 1180.5 2098.3 1185 2101C1191.2 2104.7 1204.7 2103.7 1214 2103C1223 2102.3 1230.8 2098.8 1240 2097C1250.3 2095 1262.7 2093.6 1273 2092C1282.2 2090.6 1289.3 2089.2 1299 2088C1311.1 2086.5 1321.8 2085.1 1340 2084C1375.8 2081.9 1444.9 2082 1500 2081C1558.7 2080 1639.5 2078.4 1682 2078C1704.9 2077.8 1719.3 2077.5 1735 2078C1747.6 2078.4 1758.2 2079.3 1769 2080C1778.8 2080.6 1787.3 2080.1 1797 2082C1808.1 2084.1 1822.5 2087.8 1832 2093C1839.8 2097.3 1845 2102.6 1851 2109C1857.8 2116.3 1865.7 2127.6 1870 2135C1872.9 2139.9 1873.1 2142.7 1876 2148C1880.9 2157 1893.8 2171.2 1898 2183C1901.7 2193.2 1899.9 2203.3 1902 2214C1904.4 2225.9 1908.9 2239.1 1912 2251C1914.9 2262 1918.3 2272 1920 2283C1921.7 2294.3 1920.5 2307 1922 2318C1923.3 2327.9 1926.5 2335.8 1928 2346C1929.7 2357.9 1929.9 2373 1931 2385C1931.9 2395.4 1933.5 2403.6 1934 2414C1934.6 2426 1933.4 2441 1934 2453C1934.5 2463.4 1936.2 2471.8 1937 2482C1937.9 2493.3 1938.5 2506.4 1939 2518C1939.5 2528.7 1939.7 2538.2 1940 2549C1940.3 2560.8 1940.5 2574.2 1941 2586C1941.5 2596.8 1942.4 2606.4 1943 2617C1943.6 2628.3 1944 2640.5 1944.5 2652C1945 2663.2 1945.7 2673.8 1946 2685C1946.3 2696.7 1945.4 2709.6 1946 2721C1946.5 2731.5 1948.3 2740.6 1949 2751C1949.7 2762.2 1949.5 2774.7 1950 2786C1950.5 2796.7 1950.9 2806.4 1952 2817C1953.2 2828.3 1952.5 2848.9 1957 2852C1959.3 2853.6 1963.4 2852.4 1966 2850C1971.1 2845.2 1972.3 2826.9 1976 2815C1979.9 2802.3 1984.8 2786.9 1989 2776C1992.1 2767.9 1995 2762 1998 2755" stroke="#ff0000" stroke-width="11" fill="none" stroke-linecap="round" stroke-linejoin="round" stroke-dasharray="32.6 30 5.4 30.6 5.4 30"/>
<path d="M316.7 2702C317.8 2707.3 318.8 2712.1 320 2718C321.5 2725.2 322.4 2735.4 325 2742C327.1 2747.2 330.7 2750.4 333 2755C335.4 2759.7 337.7 2764 339 2770C340.7 2778.2 339.8 2788.7 340 2800C340.2 2814.5 339.8 2834.4 340 2850C340.2 2863.8 340.4 2877.3 341 2889C341.5 2898.5 341.8 2905.4 343 2915C344.5 2926.9 347.4 2943.9 350 2955C351.9 2963.2 354.2 2969 356 2976C357.8 2983 358.6 2990.7 361 2997C363.1 3002.6 366 3006.8 369 3012C372.3 3017.8 375.9 3025.9 380 3030C383.1 3033 386.4 3035.5 390 3036C393.7 3036.6 398.4 3034.8 402 3033C405.7 3031.2 408.9 3028.2 412 3025C415.3 3021.6 418.9 3018.2 421 3013C423.9 3005.9 424.3 2995.2 425 2985C425.9 2972.9 424.8 2958.4 425 2945C425.2 2931.4 425.7 2917.6 426 2904C426.3 2890.6 426.2 2877.4 427 2864C427.8 2850.4 428.8 2836.3 431 2823C433.2 2810 435.2 2795.3 440 2785C443.8 2776.8 450.1 2770.8 455 2765C459.1 2760.1 463 2755.1 467 2752C470 2749.6 473.3 2746.5 476 2747C478.7 2747.5 481.2 2751.4 483 2755C485.4 2759.9 485.4 2768.2 487 2775C488.7 2782.2 490.1 2790.8 493 2797C495.4 2802.1 498.2 2807 502 2810C505.6 2812.8 510.7 2815 515 2815C519.3 2815 523.4 2811.8 528 2810C533.3 2807.9 539.4 2806.6 545 2803C551.8 2798.6 558.7 2788.3 565 2784C569.5 2780.9 573.6 2780.8 578 2778C583.5 2774.5 589.2 2768.8 595 2764C601.2 2758.9 608.1 2752.3 614 2748C618.6 2744.7 622.4 2743.3 627 2740C632.9 2735.7 639 2729.8 646 2724C654.4 2717 664.8 2708.5 674 2701C682.8 2693.8 690.7 2686.3 700 2680C709.4 2673.6 719.6 2667.5 730 2663C740.3 2658.5 751.7 2655.6 762 2653C771.3 2650.7 781.2 2649.7 789 2648C795.1 2646.7 799.7 2644.8 805 2644C810 2643.2 814.4 2643.6 820 2643C827.3 2642.2 835.9 2640.1 845 2639C855.7 2637.7 868.7 2636.8 880 2636C890.6 2635.2 900.6 2634.8 911 2634C921.6 2633.2 932.6 2631.3 943 2631C952.9 2630.7 962.9 2632.6 972 2632C980.1 2631.4 987.4 2628.3 995 2628C1002.4 2627.7 1009.4 2630.3 1017 2630C1025.1 2629.7 1033.5 2627 1042 2626C1050.8 2625 1060 2623.7 1069 2624C1078 2624.3 1087.1 2627.3 1096 2628C1104.7 2628.6 1115.6 2627 1122 2628C1125.8 2628.6 1128.2 2629.4 1131 2631C1133.9 2632.7 1137.1 2638.8 1139 2638C1142.7 2636.5 1141.4 2615.7 1142 2600C1143 2574.6 1142.2 2533.3 1142 2500C1141.8 2466.7 1141.2 2433.3 1141 2400C1140.8 2366.7 1140.8 2333.3 1141 2300C1141.2 2266.7 1141.8 2232.6 1142 2200C1142.2 2168.7 1139.8 2128.4 1142 2108C1143.1 2097.7 1144.5 2091.7 1147 2085C1149.1 2079.3 1152.2 2074.1 1155 2070C1157.2 2066.8 1159.9 2061.7 1162 2062C1164.4 2062.3 1166.4 2069.5 1168 2075C1170.4 2083.7 1170.5 2099.7 1172 2110C1173.2 2118.2 1174.6 2124.8 1176 2132C1177.3 2138.8 1177.6 2146.5 1180 2152C1182 2156.5 1184.2 2161.1 1188 2163C1192.2 2165.2 1197.6 2163 1205 2163C1218.9 2163 1247.1 2162.8 1265 2163C1279.4 2163.2 1291.3 2164 1304 2164C1316.2 2164 1323.7 2163.5 1340 2163C1374.3 2162 1445.9 2159.5 1500 2158C1555.8 2156.5 1637.7 2155 1670 2154C1682.9 2153.6 1686.1 2153.2 1697 2153C1714 2152.7 1743.2 2152.5 1762 2153C1776.4 2153.4 1790.7 2153.4 1800 2155C1805.5 2156 1808.3 2157.4 1813 2159C1818.8 2160.9 1827 2162.6 1832 2166C1836.3 2168.9 1837.7 2173.1 1842 2177C1848.3 2182.7 1861.6 2189.2 1867 2196C1871 2201.1 1870.4 2207 1874 2212C1878.2 2217.8 1887.7 2221.6 1892 2228C1896.3 2234.3 1897.6 2243 1900 2250C1902.2 2256.3 1903.7 2261.6 1906 2268C1908.6 2275.4 1912.1 2282.9 1915 2292C1918.8 2303.8 1922.8 2319.2 1926 2333C1929.2 2346.9 1931.8 2361.2 1934 2375C1936.1 2388.2 1937.5 2400.9 1939 2414C1940.5 2427.2 1941.7 2440.7 1943 2454C1944.3 2467.3 1945.8 2480.7 1947 2494C1948.2 2507.1 1949 2519.8 1950 2533C1951 2546.7 1951.7 2563.6 1953 2575C1953.9 2582.9 1955 2588.3 1956 2595C1957 2601.7 1957.9 2607 1959 2615C1960.7 2627 1961.2 2648.6 1965 2660C1967.5 2667.7 1969.9 2673.7 1975 2678C1980.6 2682.7 1990.3 2683.3 1998 2686" stroke="#00ff00" stroke-width="11" fill="none" stroke-linecap="round" stroke-linejoin="round" stroke-dasharray="13.5 27"/>
<path d="M316.7 2843C318.1 2848 319.6 2852.6 321 2858C322.7 2864.4 324.8 2872.3 326 2879C327.1 2884.9 327.2 2890.3 328 2896C328.8 2901.7 329.8 2907 331 2913C332.4 2919.9 334.8 2927.4 336 2935C337.3 2943 337.3 2952.9 338.5 2960C339.4 2965.4 339.5 2972.5 342 2974C343.9 2975.1 346.9 2973.1 350 2972C354.9 2970.3 362.2 2966.9 368 2964C373.7 2961.2 380 2958.6 384.5 2955C388.4 2951.8 390.4 2947.5 394 2944C397.9 2940.2 402.4 2936.6 407 2933C411.8 2929.2 418.2 2926.2 422 2922C425.3 2918.4 426.6 2913.8 429 2910C431.3 2906.5 432.9 2902.8 436 2900C439.4 2897 444.6 2895.4 449 2893C453.7 2890.4 459.7 2887.7 463.5 2885C466.2 2883 467.1 2880.6 470 2879C473.8 2876.9 480.1 2876.2 485 2875C489.7 2873.9 494.1 2872.7 499 2872C504.4 2871.2 510.4 2871.4 516 2870.6C521.4 2869.8 525.7 2868.2 532 2867C541 2865.3 556.5 2863 565 2862C570.3 2861.4 573.5 2861.6 578 2861C583.1 2860.3 587.9 2859.1 594 2858C602.3 2856.5 615.1 2854.6 623.5 2853C629.8 2851.8 633.6 2850.8 640 2849.5C648.9 2847.7 661 2845.7 672 2843.5C683.9 2841.1 697.3 2838.4 709 2835.7C719.6 2833.2 729 2830.8 739 2828C749 2825.2 759.1 2821.9 769 2819C778.7 2816.2 788.2 2813.6 798 2811C808.1 2808.4 818.6 2805.6 829 2803.4C839.3 2801.2 849.4 2799.2 860 2798C871 2796.7 882.1 2796.2 894 2796C907 2795.8 922 2796.4 935 2797C946.9 2797.6 957.6 2798.7 969 2799.5C980.6 2800.3 992.5 2801.4 1004 2802C1015.2 2802.6 1025.9 2802.7 1037 2803C1048.2 2803.3 1059.7 2804 1071 2804C1082.3 2804 1094.8 2804.5 1105 2803C1113.5 2801.8 1122 2800.2 1128 2797C1132.7 2794.4 1135.2 2787.5 1139 2787C1142.5 2786.6 1146.8 2789.9 1150 2793C1154 2796.7 1157 2803.6 1160 2809C1163 2814.3 1164.1 2822.4 1168 2825C1171.2 2827.2 1175.6 2826.2 1180 2826C1185.4 2825.8 1191.1 2824.2 1198 2823C1207.1 2821.4 1219.6 2819.4 1230 2817C1240 2814.7 1249.2 2811.6 1259 2809C1268.9 2806.3 1278.7 2802.5 1289 2801C1299.4 2799.5 1309.2 2799.7 1321 2800C1335.6 2800.4 1354.7 2802.8 1370 2804C1383.5 2805.1 1396 2805.9 1408 2807C1418.9 2808 1428.6 2808.8 1439 2810C1449.6 2811.2 1460.3 2812.5 1471 2814C1481.9 2815.5 1493 2817.8 1504 2819C1515 2820.2 1525.8 2820.3 1537 2821C1548.7 2821.7 1560.8 2822.3 1573 2823C1585.7 2823.8 1599.6 2824.3 1612 2825.5C1623.5 2826.6 1633.8 2828.8 1645 2830C1656.5 2831.3 1668.6 2831.8 1680 2833C1690.9 2834.1 1701.3 2835.7 1712 2837C1722.9 2838.3 1734.2 2839.7 1745 2841C1755.5 2842.2 1765.7 2843.2 1776 2844.5C1786.3 2845.8 1797.2 2847.5 1807 2849C1815.8 2850.3 1823.4 2851.1 1832 2853C1841.4 2855 1852.9 2859.1 1861 2861C1866.8 2862.4 1871 2862.6 1876 2864C1881.3 2865.5 1885.9 2867.7 1892 2870C1900 2873.1 1913.1 2876.7 1920 2881C1924.9 2884 1927.1 2887.4 1931 2891C1935.4 2895 1939.9 2899.2 1945 2904C1951.3 2909.9 1960.5 2917.8 1966 2924C1970.2 2928.6 1971.6 2932.8 1976 2937C1981.6 2942.3 1990.7 2947 1998 2952" stroke="#ff0000" stroke-width="11" fill="none" stroke-linecap="round" stroke-linejoin="round" stroke-dasharray="26 21.8 0.4 21.8"/>
</g>
<rect x="316.7" y="1846" width="1674.6" height="1225.8" fill="none" stroke="#000" stroke-width="5.2"/>
<path d="M316.7 3071.8L316.7 3098.8M456.2 3071.8L456.2 3086.8M456.2 1846L456.2 1860M595.8 3071.8L595.8 3098.8M595.8 1846L595.8 1872M735.3 3071.8L735.3 3086.8M735.3 1846L735.3 1860M874.9 3071.8L874.9 3098.8M874.9 1846L874.9 1872M1014.5 3071.8L1014.5 3086.8M1014.5 1846L1014.5 1860M1154 3071.8L1154 3098.8M1154 1846L1154 1872M1293.5 3071.8L1293.5 3086.8M1293.5 1846L1293.5 1860M1433.1 3071.8L1433.1 3098.8M1433.1 1846L1433.1 1872M1572.6 3071.8L1572.6 3086.8M1572.6 1846L1572.6 1860M1712.2 3071.8L1712.2 3098.8M1712.2 1846L1712.2 1872M1851.8 3071.8L1851.8 3086.8M1851.8 1846L1851.8 1860M1991.3 3071.8L1991.3 3098.8M301.2 3071.8L316.7 3071.8M1975.8 3071.8L1991.3 3071.8M301.2 3055.6L316.7 3055.6M1975.8 3055.6L1991.3 3055.6M301.2 3041.9L316.7 3041.9M1975.8 3041.9L1991.3 3041.9M301.2 3030.1L316.7 3030.1M1975.8 3030.1L1991.3 3030.1M301.2 3019.6L316.7 3019.6M1975.8 3019.6L1991.3 3019.6M288.2 3010.3L316.7 3010.3M1963.8 3010.3L1991.3 3010.3M301.2 2948.8L316.7 2948.8M1975.8 2948.8L1991.3 2948.8M301.2 2912.8L316.7 2912.8M1975.8 2912.8L1991.3 2912.8M301.2 2887.3L316.7 2887.3M1975.8 2887.3L1991.3 2887.3M301.2 2867.5L316.7 2867.5M1975.8 2867.5L1991.3 2867.5M301.2 2851.3L316.7 2851.3M1975.8 2851.3L1991.3 2851.3M301.2 2837.6L316.7 2837.6M1975.8 2837.6L1991.3 2837.6M301.2 2825.8L316.7 2825.8M1975.8 2825.8L1991.3 2825.8M301.2 2815.3L316.7 2815.3M1975.8 2815.3L1991.3 2815.3M288.2 2806L316.7 2806M1963.8 2806L1991.3 2806M301.2 2744.5L316.7 2744.5M1975.8 2744.5L1991.3 2744.5M301.2 2708.5L316.7 2708.5M1975.8 2708.5L1991.3 2708.5M301.2 2683L316.7 2683M1975.8 2683L1991.3 2683M301.2 2663.2L316.7 2663.2M1975.8 2663.2L1991.3 2663.2M301.2 2647L316.7 2647M1975.8 2647L1991.3 2647M301.2 2633.3L316.7 2633.3M1975.8 2633.3L1991.3 2633.3M301.2 2621.5L316.7 2621.5M1975.8 2621.5L1991.3 2621.5M301.2 2611L316.7 2611M1975.8 2611L1991.3 2611M288.2 2601.7L316.7 2601.7M1963.8 2601.7L1991.3 2601.7M301.2 2540.2L316.7 2540.2M1975.8 2540.2L1991.3 2540.2M301.2 2504.2L316.7 2504.2M1975.8 2504.2L1991.3 2504.2M301.2 2478.7L316.7 2478.7M1975.8 2478.7L1991.3 2478.7M301.2 2458.9L316.7 2458.9M1975.8 2458.9L1991.3 2458.9M301.2 2442.7L316.7 2442.7M1975.8 2442.7L1991.3 2442.7M301.2 2429L316.7 2429M1975.8 2429L1991.3 2429M301.2 2417.2L316.7 2417.2M1975.8 2417.2L1991.3 2417.2M301.2 2406.7L316.7 2406.7M1975.8 2406.7L1991.3 2406.7M288.2 2397.4L316.7 2397.4M1963.8 2397.4L1991.3 2397.4M301.2 2335.9L316.7 2335.9M1975.8 2335.9L1991.3 2335.9M301.2 2299.9L316.7 2299.9M1975.8 2299.9L1991.3 2299.9M301.2 2274.4L316.7 2274.4M1975.8 2274.4L1991.3 2274.4M301.2 2254.6L316.7 2254.6M1975.8 2254.6L1991.3 2254.6M301.2 2238.4L316.7 2238.4M1975.8 2238.4L1991.3 2238.4M301.2 2224.7L316.7 2224.7M1975.8 2224.7L1991.3 2224.7M301.2 2212.9L316.7 2212.9M1975.8 2212.9L1991.3 2212.9M301.2 2202.4L316.7 2202.4M1975.8 2202.4L1991.3 2202.4M288.2 2193.1L316.7 2193.1M1963.8 2193.1L1991.3 2193.1M301.2 2131.6L316.7 2131.6M1975.8 2131.6L1991.3 2131.6M301.2 2095.6L316.7 2095.6M1975.8 2095.6L1991.3 2095.6M301.2 2070.1L316.7 2070.1M1975.8 2070.1L1991.3 2070.1M301.2 2050.3L316.7 2050.3M1975.8 2050.3L1991.3 2050.3M301.2 2034.1L316.7 2034.1M1975.8 2034.1L1991.3 2034.1M301.2 2020.4L316.7 2020.4M1975.8 2020.4L1991.3 2020.4M301.2 2008.6L316.7 2008.6M1975.8 2008.6L1991.3 2008.6M301.2 1998.1L316.7 1998.1M1975.8 1998.1L1991.3 1998.1M288.2 1988.8L316.7 1988.8M1963.8 1988.8L1991.3 1988.8M301.2 1927.3L316.7 1927.3M1975.8 1927.3L1991.3 1927.3M301.2 1891.3L316.7 1891.3M1975.8 1891.3L1991.3 1891.3M301.2 1865.8L316.7 1865.8M1975.8 1865.8L1991.3 1865.8M301.2 1846L316.7 1846M1975.8 1846L1991.3 1846" stroke="#000" stroke-width="4.9" fill="none"/>
<g font-size="67.5" font-family='"Liberation Sans", Arial, sans-serif'><text x="312.5" y="1404.7" text-anchor="middle">4</text><text x="592.2" y="1404.7" text-anchor="middle">6</text><text x="871.8" y="1404.7" text-anchor="middle">8</text><text x="1151.5" y="1404.7" text-anchor="middle">10</text><text x="1431.2" y="1404.7" text-anchor="middle">12</text><text x="1710.8" y="1404.7" text-anchor="middle">14</text><text x="1990.5" y="1404.7" text-anchor="middle">16</text></g>
<g font-size="67.5" font-family='"Liberation Sans", Arial, sans-serif'><text x="316.7" y="3166.7" text-anchor="middle">4</text><text x="595.8" y="3166.7" text-anchor="middle">6</text><text x="874.9" y="3166.7" text-anchor="middle">8</text><text x="1154" y="3166.7" text-anchor="middle">10</text><text x="1433.1" y="3166.7" text-anchor="middle">12</text><text x="1712.2" y="3166.7" text-anchor="middle">14</text><text x="1991.3" y="3166.7" text-anchor="middle">16</text></g>
<g font-size="67.5" font-family='"Liberation Sans", Arial, sans-serif'><text x="225" y="1315.7" text-anchor="end">10</text><text x="225.6" y="1278.5" font-size="40">13</text><text x="225" y="1114.2" text-anchor="end">10</text><text x="225.6" y="1077" font-size="40">14</text><text x="225" y="912.7" text-anchor="end">10</text><text x="225.6" y="875.5" font-size="40">15</text><text x="225" y="711.2" text-anchor="end">10</text><text x="225.6" y="674" font-size="40">16</text><text x="225" y="509.7" text-anchor="end">10</text><text x="225.6" y="472.5" font-size="40">17</text><text x="225" y="308.2" text-anchor="end">10</text><text x="225.6" y="271" font-size="40">18</text><text x="225" y="106.7" text-anchor="end">10</text><text x="225.6" y="69.5" font-size="40">19</text></g>
<g font-size="67.5" font-family='"Liberation Sans", Arial, sans-serif'><text x="230.1" y="3035.5" text-anchor="end">10</text><text x="230.8" y="2998.3" font-size="40">12</text><text x="230.1" y="2831.2" text-anchor="end">10</text><text x="230.8" y="2794" font-size="40">13</text><text x="230.1" y="2626.9" text-anchor="end">10</text><text x="230.8" y="2589.7" font-size="40">14</text><text x="230.1" y="2422.6" text-anchor="end">10</text><text x="230.8" y="2385.4" font-size="40">15</text><text x="230.1" y="2218.3" text-anchor="end">10</text><text x="230.8" y="2181.1" font-size="40">16</text><text x="230.1" y="2014" text-anchor="end">10</text><text x="230.8" y="1976.8" font-size="40">17</text></g>
<path d="M338 142.5 511.5 142.5" stroke="#ff0000" stroke-width="10" fill="none" stroke-linecap="round" stroke-linejoin="round"/><text x="532" y="170.2" font-size="80" font-family='"Liberation Sans", Arial, sans-serif'>30</text>
<path d="M338 238.1 511.5 238.1" stroke="#00ff00" stroke-width="10" fill="none" stroke-linecap="round" stroke-linejoin="round" stroke-dasharray="37 52"/><text x="532" y="265.8" font-size="80" font-family='"Liberation Sans", Arial, sans-serif'>35</text>
<path d="M338 333.7 511.5 333.7" stroke="#0000ff" stroke-width="10" fill="none" stroke-linecap="round" stroke-linejoin="round" stroke-dasharray="46 30 6 30"/><text x="532" y="361.4" font-size="80" font-family='"Liberation Sans", Arial, sans-serif'>40</text>
<path d="M338 429.3 511.5 429.3" stroke="#ff0000" stroke-width="10" fill="none" stroke-linecap="round" stroke-linejoin="round" stroke-dasharray="33.6 29 6.4 29.6 6.4 29"/><text x="532" y="457" font-size="80" font-family='"Liberation Sans", Arial, sans-serif'>45</text>
<path d="M338 524.9 511.5 524.9" stroke="#00ff00" stroke-width="10" fill="none" stroke-linecap="round" stroke-linejoin="round" stroke-dasharray="14.5 26"/><text x="532" y="552.6" font-size="80" font-family='"Liberation Sans", Arial, sans-serif'>50</text>
<path d="M338 620.5 511.5 620.5" stroke="#ff0000" stroke-width="10" fill="none" stroke-linecap="round" stroke-linejoin="round" stroke-dasharray="27 21 1 21"/><text x="532" y="648.2" font-size="80" font-family='"Liberation Sans", Arial, sans-serif'>2000</text>
<path d="M336 1904.3 509.8 1904.3" stroke="#ff0000" stroke-width="10" fill="none" stroke-linecap="round" stroke-linejoin="round"/><text x="529" y="1931.3" font-size="80" font-family='"Liberation Sans", Arial, sans-serif'>30</text>
<path d="M336 1999.7 509.8 1999.7" stroke="#00ff00" stroke-width="10" fill="none" stroke-linecap="round" stroke-linejoin="round" stroke-dasharray="37 52"/><text x="529" y="2026.7" font-size="80" font-family='"Liberation Sans", Arial, sans-serif'>35</text>
<path d="M336 2095.1 509.8 2095.1" stroke="#0000ff" stroke-width="10" fill="none" stroke-linecap="round" stroke-linejoin="round" stroke-dasharray="46 30 6 30"/><text x="529" y="2122.1" font-size="80" font-family='"Liberation Sans", Arial, sans-serif'>40</text>
<path d="M336 2190.5 509.8 2190.5" stroke="#ff0000" stroke-width="10" fill="none" stroke-linecap="round" stroke-linejoin="round" stroke-dasharray="33.6 29 6.4 29.6 6.4 29"/><text x="529" y="2217.5" font-size="80" font-family='"Liberation Sans", Arial, sans-serif'>45</text>
<path d="M336 2285.9 509.8 2285.9" stroke="#00ff00" stroke-width="10" fill="none" stroke-linecap="round" stroke-linejoin="round" stroke-dasharray="14.5 26"/><text x="529" y="2312.9" font-size="80" font-family='"Liberation Sans", Arial, sans-serif'>50</text>
<path d="M641.7 1904.3 806.4 1904.3" stroke="#ff0000" stroke-width="10" fill="none" stroke-linecap="round" stroke-linejoin="round" stroke-dasharray="27 21 1 21"/><text x="832.7" y="1931.3" font-size="80" font-family='"Liberation Sans", Arial, sans-serif'>2000</text>
<text transform="translate(102 786.7) rotate(-90)" font-size="77" font-family='"Liberation Sans", Arial, sans-serif'>n<tspan font-size="49" dy="30.5">e</tspan><tspan dy="-30.5"> [1/m</tspan><tspan font-size="49" dy="-43.5">3</tspan><tspan dy="43.5">]</tspan></text>
<text transform="translate(102 2556.1) rotate(-90)" font-size="77" font-family='"Liberation Sans", Arial, sans-serif'>n<tspan font-size="49" dy="30.5">Air</tspan><tspan font-size="30" dy="-54.5">-</tspan><tspan dy="24"> [1/m</tspan><tspan font-size="49" dy="-43.5">3</tspan><tspan dy="43.5">]</tspan></text>
<text x="1130.9" y="1510.2" text-anchor="middle" font-size="78.4" font-family='"Liberation Sans", Arial, sans-serif'>x[mm]</text>
<text x="1133.1" y="3271.9" text-anchor="middle" font-size="78.4" font-family='"Liberation Sans", Arial, sans-serif'>x[m]</text>
<text y="1732" font-size="86" font-family='"Liberation Serif", "Times New Roman", serif'><tspan x="976.2">(</tspan><tspan x="1002.8" font-weight="bold">a</tspan><tspan x="1045">)</tspan></text>
<text y="3492" font-size="86" font-family='"Liberation Serif", "Times New Roman", serif'><tspan x="971.8">(</tspan><tspan x="999.6" font-weight="bold">b</tspan><tspan x="1049.6">)</tspan></text>
</svg></body></html>
